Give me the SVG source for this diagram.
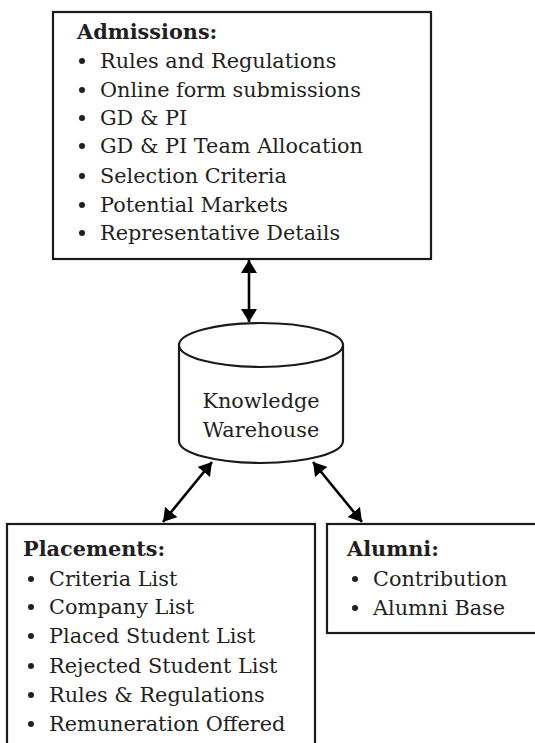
<svg xmlns="http://www.w3.org/2000/svg" width="535" height="743" viewBox="0 0 535 743">
<style>
.box{fill:#fff;stroke:#1a1a1a;stroke-width:2.2}
.t{font-family:"DejaVu Serif","Liberation Serif",serif;font-size:20.8px;fill:#231f20}
.h{font-weight:bold}
.b{fill:#231f20}
.c{text-anchor:middle}
.conn{stroke:#000;stroke-width:2.6;fill:none;marker-start:url(#ah);marker-end:url(#ah)}
</style>
<defs>
<marker id="ah" markerUnits="userSpaceOnUse" markerWidth="14" markerHeight="16" refX="13" refY="8" orient="auto-start-reverse">
<path d="M0,0 L13,8 L0,16 z" fill="#000"/>
</marker>
</defs>
<rect width="535" height="743" fill="#fff"/>
<g id="admissions">
<rect class="box" x="53" y="12" width="378" height="247"/>
<text class="t h" x="77" y="39">Admissions:</text>
<circle class="b" cx="82" cy="61" r="3"/><text class="t" x="100" y="68">Rules and Regulations</text>
<circle class="b" cx="82" cy="90" r="3"/><text class="t" x="100" y="97">Online form submissions</text>
<circle class="b" cx="82" cy="118" r="3"/><text class="t" x="100" y="125">GD &amp; PI</text>
<circle class="b" cx="82" cy="146" r="3"/><text class="t" x="100" y="153">GD &amp; PI Team Allocation</text>
<circle class="b" cx="82" cy="176" r="3"/><text class="t" x="100" y="183">Selection Criteria</text>
<circle class="b" cx="82" cy="205" r="3"/><text class="t" x="100" y="212">Potential Markets</text>
<circle class="b" cx="82" cy="233" r="3"/><text class="t" x="100" y="240">Representative Details</text>
</g>
<g id="warehouse">
<path class="box" d="M179,345 L179,441 A82,22 0 0 0 343,441 L343,345"/>
<ellipse class="box" cx="261" cy="345" rx="82" ry="22"/>
<text class="t c" x="261" y="408">Knowledge</text>
<text class="t c" x="261" y="437">Warehouse</text>
</g>
<g id="placements">
<rect class="box" x="7" y="524" width="308" height="235"/>
<text class="t h" x="23" y="556">Placements:</text>
<circle class="b" cx="31" cy="579" r="3"/><text class="t" x="49" y="586">Criteria List</text>
<circle class="b" cx="31" cy="607" r="3"/><text class="t" x="49" y="614">Company List</text>
<circle class="b" cx="31" cy="636" r="3"/><text class="t" x="49" y="643">Placed Student List</text>
<circle class="b" cx="31" cy="666" r="3"/><text class="t" x="49" y="673">Rejected Student List</text>
<circle class="b" cx="31" cy="695" r="3"/><text class="t" x="49" y="702">Rules &amp; Regulations</text>
<circle class="b" cx="31" cy="724" r="3"/><text class="t" x="49" y="731">Remuneration Offered</text>
</g>
<g id="alumni">
<rect class="box" x="327" y="524" width="220" height="109"/>
<text class="t h" x="347" y="556">Alumni:</text>
<circle class="b" cx="355" cy="579" r="3"/><text class="t" x="373" y="586">Contribution</text>
<circle class="b" cx="355" cy="608" r="3"/><text class="t" x="373" y="615">Alumni Base</text>
</g>
<g id="connectors">
<line class="conn" x1="249" y1="260" x2="249" y2="322"/>
<line class="conn" x1="212" y1="462" x2="163" y2="522"/>
<line class="conn" x1="313" y1="462" x2="362" y2="522"/>
</g>
</svg>
